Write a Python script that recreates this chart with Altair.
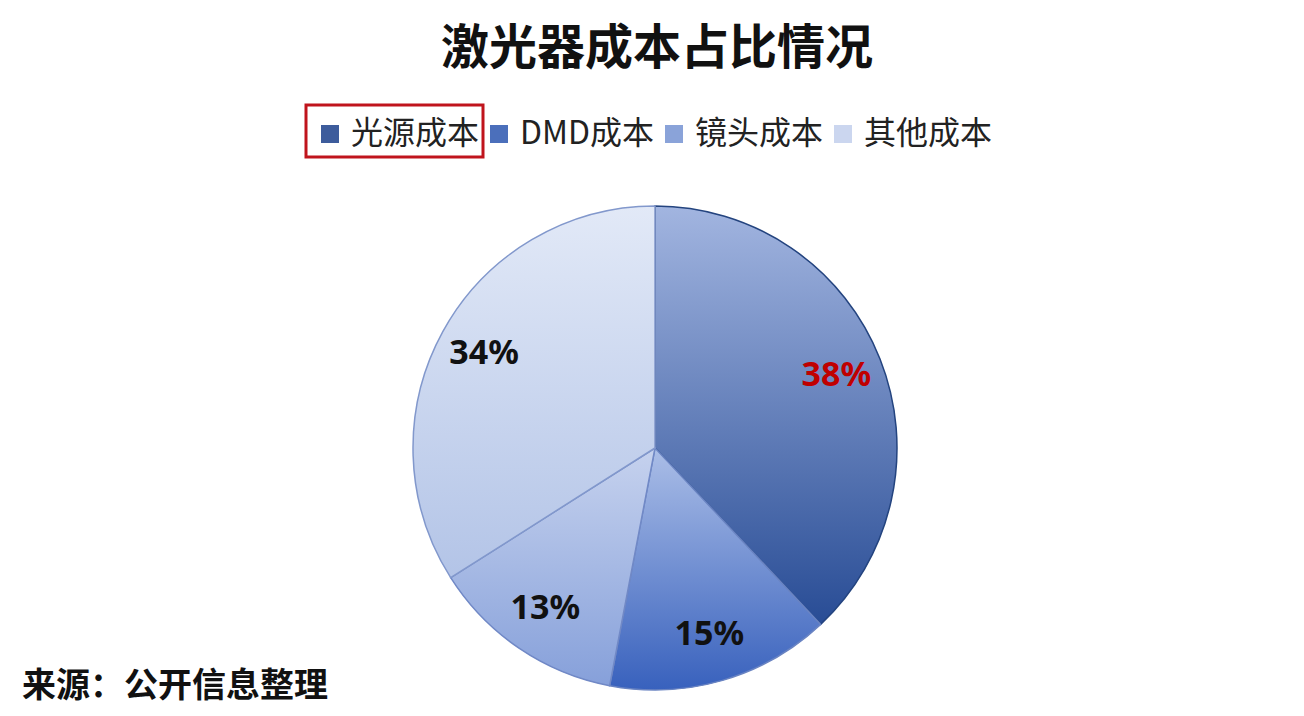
import altair as alt
import pandas as pd

title_text = "激光器成本占比情况"
source_text = "来源：公开信息整理"

categories = ["光源成本", "DMD成本", "镜头成本", "其他成本"]
values = [38, 15, 13, 34]
labels = ["38%", "15%", "13%", "34%"]
label_colors = ["#c00000", "#111111", "#111111", "#111111"]

legend_colors = ["#3d5c9c", "#4b6fbb", "#8aa3d9", "#cbd6ef"]
grad_top = ["#a2b5e0", "#abbee7", "#c6d2ee", "#e2e9f7"]
grad_bottom = ["#284c95", "#3861bd", "#86a0da", "#b3c4e7"]
edge_colors = ["#24447f", "#6a84c2", "#7189c6", "#8298cc"]

df = pd.DataFrame({
    "cat": categories,
    "value": values,
    "label": labels,
    "lcolor": label_colors,
    "order": list(range(len(categories))),
})

W, H = 1288, 700
CX, CY = 647, 440
R = 242
LABEL_R = 195

theta_scale = alt.Scale(domain=[0, 100], range=[0, 6.283185307179586])

base = alt.Chart(df).transform_window(
    end="sum(value)", sort=[alt.SortField("order")], frame=[None, 0]
).transform_calculate(
    start="datum.end - datum.value",
    mid="datum.end - datum.value / 2",
)

legend_layer = base.mark_arc(outerRadius=R).encode(
    theta=alt.Theta("start:Q", scale=theta_scale, stack=False),
    theta2="end:Q",
    x=alt.value(CX),
    y=alt.value(CY),
    color=alt.Color(
        "cat:N",
        scale=alt.Scale(domain=categories, range=legend_colors),
        title=None,
        legend=alt.Legend(
            orient="none", legendX=306, legendY=110, direction="horizontal",
            columns=4, symbolType="square", symbolSize=324, symbolStrokeWidth=0,
            labelFontSize=32, labelFont="Noto Sans CJK SC", labelColor="#222222",
            columnPadding=3, labelOffset=5, padding=0,
        ),
    ),
)

slice_layers = []
for i, c in enumerate(categories):
    grad = alt.LinearGradient(
        gradient="linear",
        stops=[alt.GradientStop(offset=0, color=grad_top[i]),
               alt.GradientStop(offset=1, color=grad_bottom[i])],
        x1=0, x2=0, y1=0, y2=1,
    )
    slice_layers.append(
        base.transform_filter(alt.datum.cat == c).mark_arc(
            outerRadius=R, fill=grad, stroke=edge_colors[i], strokeWidth=1.5
        ).encode(
            theta=alt.Theta("start:Q", scale=theta_scale, stack=False),
            theta2="end:Q",
            x=alt.value(CX),
            y=alt.value(CY),
        )
    )

text_layer = base.mark_text(fontSize=34, fontWeight="bold", font="Noto Sans").encode(
    theta=alt.Theta("mid:Q", scale=theta_scale, stack=False),
    radius=alt.value(LABEL_R),
    x=alt.value(CX),
    y=alt.value(CY),
    text="label:N",
    color=alt.Color("lcolor:N", scale=None),
)

title_layer = alt.Chart(pd.DataFrame({"t": [title_text]})).mark_text(
    fontSize=48, fontWeight="bold", font="Noto Sans CJK SC", color="#111111",
    align="center", baseline="middle",
).encode(text="t:N", x=alt.value(649), y=alt.value(42))

source_layer = alt.Chart(pd.DataFrame({"t": [source_text]})).mark_text(
    fontSize=34, fontWeight="bold", font="Noto Sans CJK SC", color="#111111",
    align="left", baseline="middle",
).encode(text="t:N", x=alt.value(14), y=alt.value(679))

box_layer = alt.Chart(pd.DataFrame({"a": [0]})).mark_rect(
    fillOpacity=0, stroke="#c0141c", strokeWidth=3
).encode(x=alt.value(298), x2=alt.value(475), y=alt.value(97), y2=alt.value(149))

chart = alt.layer(
    legend_layer, *slice_layers, text_layer, title_layer, source_layer, box_layer
).properties(
    width=W, height=H, padding=0, autosize="none", background="#ffffff"
).configure_view(strokeWidth=0)

chart.save("out.html", embed_options={"renderer": "svg", "actions": False})
